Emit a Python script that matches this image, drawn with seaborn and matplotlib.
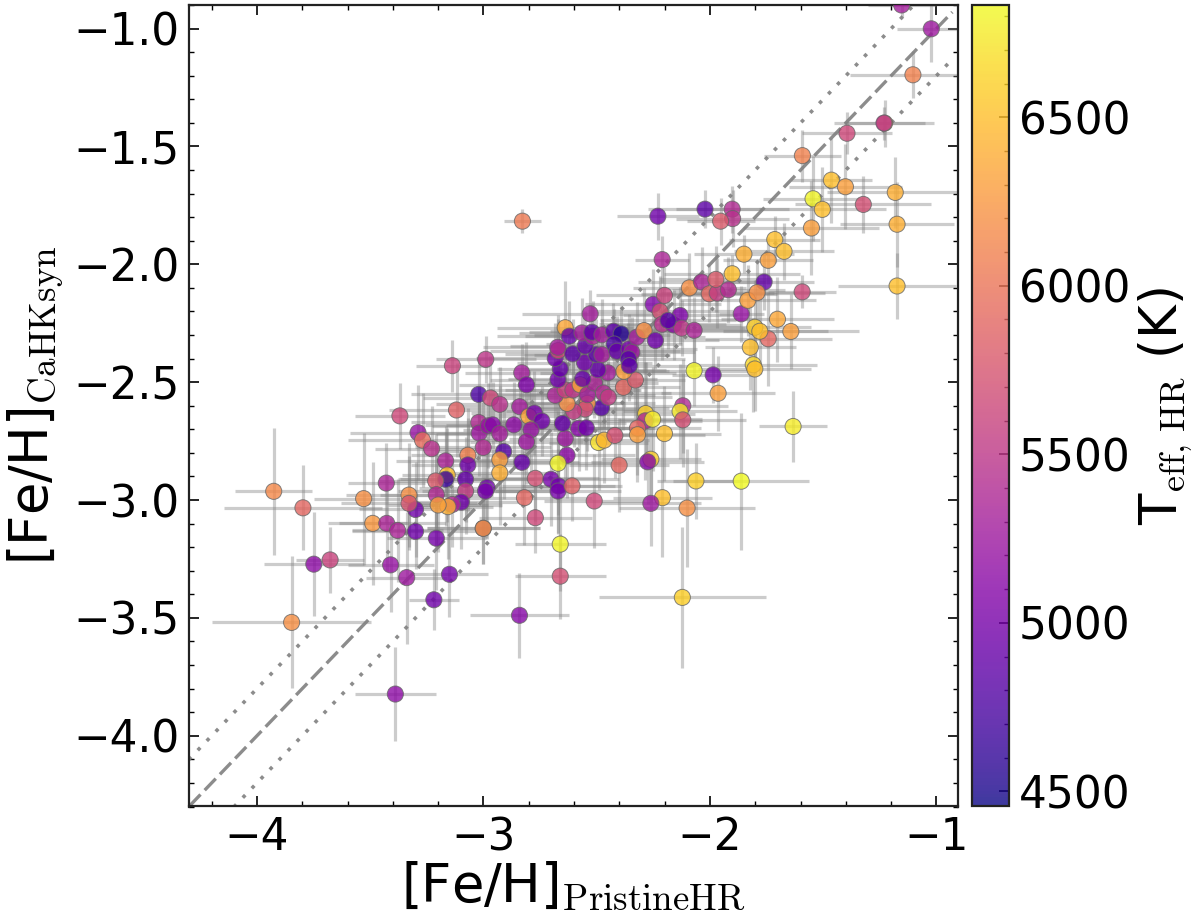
import numpy as np
import matplotlib
matplotlib.use("Agg")
import matplotlib.pyplot as plt
from matplotlib.cm import ScalarMappable
from matplotlib.colors import Normalize
from matplotlib.ticker import MultipleLocator
import seaborn as sns

feh_hr = [
 -3.926,-3.797,-3.749,-3.677,-3.847,-3.529,-3.489,-3.429,-3.427,-3.379,
 -3.41,-3.339,-3.30,-3.30,-3.329,-3.329,-3.208,-3.15,-3.219,-3.389,
 -3.369,-3.119,-3.289,-3.269,-3.229,-3.167,-3.069,-3.069,-3.16,-3.167,
 -3.211,-3.079,-3.208,-3.079,-2.984,-2.991,-3.098,-3.138,-3.157,-3.2,
 -3.001,-3.001,-3.021,-3.019,-3.001,-2.978,-2.99,-3.021,-2.969,-2.928,
 -2.831,-2.81,-2.84,-2.8,-2.775,-2.742,-2.866,-2.959,-2.928,-2.79,
 -2.81,-2.911,-2.928,-2.928,-2.83,-2.771,-2.702,-2.669,-2.671,-2.609,
 -2.819,-2.771,-2.511,-2.401,-2.631,-2.671,-2.639,-2.651,-2.58,-2.546,
 -2.492,-2.467,-2.42,-2.479,-2.541,-2.551,-2.602,-2.631,-2.683,-2.639,
 -2.605,-2.573,-2.541,-2.51,-2.47,-2.449,-2.382,-2.329,-2.38,-2.451,
 -2.495,-2.562,-2.671,-2.661,-2.554,-2.683,-2.67,-2.672,-2.606,-2.502,
 -2.477,-2.551,-2.639,-2.621,-2.565,-2.518,-2.521,-2.477,-2.529,-2.426,
 -2.392,-2.423,-2.411,-2.357,-2.345,-2.36,-2.356,-2.323,-2.291,-2.241,
 -2.251,-2.22,-2.201,-2.211,-2.161,-2.132,-2.125,-2.07,-2.185,-2.091,
 -2.037,-2.003,-1.968,-2.07,-1.986,-1.964,-2.12,-2.132,-2.12,-2.284,
 -2.286,-2.253,-2.32,-2.32,-2.201,-2.261,-2.275,-2.062,-2.21,-2.261,
 -2.101,-2.661,-1.633,-1.862,-2.122,-1.702,-1.643,-1.743,-1.802,-1.78,
 -1.822,-1.809,-1.802,-1.862,-1.833,-1.023,-1.154,-1.104,-1.395,-1.229,
 -1.232,-1.592,-1.464,-1.402,-1.182,-1.545,-1.504,-1.323,-1.174,-1.552,
 -2.23,-2.022,-1.902,-1.9,-1.953,-1.714,-1.673,-1.85,-1.743,-2.211,
 -1.902,-1.761,-1.974,-1.919,-1.792,-1.593,-1.174,-2.828,-3.137,-2.661,
 -2.841,
]
feh_cahk = [
 -2.963,-3.033,-3.272,-3.254,-3.519,-2.994,-3.099,-2.928,-3.099,-3.129,
 -3.275,-3.329,-3.133,-3.04,-2.979,-3.014,-3.162,-3.315,-3.423,-3.823,
 -2.643,-2.618,-2.714,-2.746,-2.782,-2.834,-2.81,-2.851,-2.894,-2.912,
 -2.919,-2.912,-2.977,-2.962,-2.947,-2.962,-3.009,-3.019,-3.028,-3.021,
 -3.12,-3.12,-2.671,-2.716,-2.777,-2.685,-2.403,-2.552,-2.567,-2.594,
 -2.46,-2.511,-2.604,-2.645,-2.631,-2.665,-2.681,-2.681,-2.718,-2.702,
 -2.753,-2.794,-2.829,-2.885,-2.84,-2.908,-2.912,-2.94,-2.962,-2.94,
 -2.99,-3.075,-3.004,-2.852,-2.81,-2.844,-2.739,-2.675,-2.696,-2.694,
 -2.756,-2.746,-2.726,-2.609,-2.59,-2.614,-2.624,-2.59,-2.556,-2.533,
 -2.533,-2.511,-2.553,-2.503,-2.546,-2.564,-2.522,-2.491,-2.454,-2.46,
 -2.447,-2.486,-2.489,-2.444,-2.417,-2.399,-2.366,-2.352,-2.38,-2.383,
 -2.383,-2.347,-2.269,-2.305,-2.291,-2.306,-2.288,-2.299,-2.21,-2.284,
 -2.295,-2.338,-2.369,-2.359,-2.373,-2.401,-2.43,-2.309,-2.281,-2.323,
 -2.17,-2.2,-2.132,-2.254,-2.257,-2.217,-2.271,-2.28,-2.238,-2.1,
 -2.075,-2.125,-2.122,-2.451,-2.469,-2.547,-2.6,-2.624,-2.66,-2.633,
 -2.664,-2.657,-2.695,-2.723,-2.718,-2.827,-2.838,-2.919,-2.99,-3.014,
 -3.034,-3.187,-2.688,-2.92,-3.413,-2.233,-2.285,-2.316,-2.267,-2.284,
 -2.352,-2.426,-2.444,-2.21,-2.153,-1.001,-0.9,-1.196,-1.444,-1.401,
 -1.401,-1.539,-1.643,-1.671,-1.695,-1.722,-1.767,-1.746,-1.83,-1.846,
 -1.796,-1.766,-1.766,-1.806,-1.817,-1.895,-1.945,-1.957,-1.983,-1.98,
 -2.04,-2.075,-2.064,-2.108,-2.12,-2.117,-2.092,-1.817,-2.43,-3.323,
 -3.489,
]
teff = [
 6150,5900,5150,5600,6200,6200,6250,5350,5350,5350,
 5200,5250,4950,4950,6200,5750,5000,5000,4950,5150,
 5650,5850,5200,5950,5450,5350,6100,4950,6500,4650,
 5800,4900,5400,5550,4950,5000,4950,5400,6400,6300,
 4900,6300,5400,5250,5400,5200,5500,4750,5650,5450,
 5300,5050,5300,6350,5000,4950,5150,5100,5300,5200,
 5250,4800,6300,6400,4900,5700,5000,4950,5000,5850,
 5900,5650,5650,5900,5150,6800,5250,4900,5100,4950,
 6700,6450,5700,4800,6200,5650,5550,6200,5350,5600,
 5500,6350,5300,5350,5400,5550,5900,5800,6300,5300,
 4900,4900,4950,4900,4950,4950,5700,5300,4850,4850,
 5300,4900,6350,4900,5300,5350,4850,5300,5300,4850,
 4550,4750,4900,5000,5250,4800,4850,5300,6200,4950,
 5050,5700,5600,5450,5100,5050,5500,5350,4800,6200,
 5350,5900,5550,6800,5000,6300,5400,6750,5700,6600,
 5350,6750,5900,6300,6500,6600,5100,6600,6500,5250,
 6200,6800,6750,6830,6600,6350,6300,5900,6600,6500,
 6500,6650,6500,5200,6300,5250,5300,6100,5650,6300,
 5450,6100,6500,6300,6400,6800,6500,5700,6400,6300,
 4950,4850,5400,5450,5800,6500,6500,6400,6300,5350,
 6500,4900,5800,5400,6200,5650,6500,6050,5600,5700,
 5100,
]
err_x = [
 .17,.35,.22,.15,.35,.22,.15,.17,.26,.20,
 .19,.18,.28,.25,.28,.30,.22,.17,.11,.18,
 .20,.30,.30,.33,.25,.22,.25,.25,.20,.20,
 .25,.30,.25,.30,.30,.28,.25,.22,.20,.22,
 .25,.25,.30,.28,.30,.25,.22,.30,.30,.28,
 .25,.30,.28,.25,.28,.25,.30,.30,.28,.30,
 .25,.30,.28,.25,.25,.28,.30,.25,.28,.22,
 .30,.25,.22,.22,.30,.28,.25,.28,.30,.30,
 .22,.20,.25,.30,.30,.28,.30,.25,.30,.33,
 .30,.28,.30,.28,.30,.28,.25,.22,.20,.30,
 .30,.33,.30,.28,.30,.35,.30,.33,.30,.32,
 .30,.33,.30,.32,.28,.30,.28,.30,.30,.28,
 .25,.30,.28,.30,.28,.25,.28,.30,.25,.28,
 .30,.32,.30,.28,.30,.25,.28,.25,.30,.25,
 .28,.30,.25,.25,.18,.25,.20,.25,.28,.22,
 .25,.22,.28,.30,.25,.22,.25,.17,.22,.22,
 .30,.20,.15,.30,.37,.25,.30,.28,.25,.30,
 .20,.28,.25,.10,.30,.15,.15,.28,.20,.18,
 .22,.17,.18,.25,.30,.22,.28,.30,.25,.30,
 .18,.25,.25,.25,.15,.20,.22,.22,.20,.12,
 .30,.22,.25,.25,.30,.15,.26,.08,.16,.20,
 .22,
]
err_y = [
 .27,.18,.22,.14,.28,.28,.26,.17,.20,.22,
 .20,.28,.16,.20,.22,.20,.22,.18,.13,.20,
 .14,.20,.20,.20,.18,.15,.20,.20,.20,.20,
 .20,.18,.22,.18,.22,.20,.20,.18,.22,.20,
 .15,.15,.15,.18,.20,.18,.10,.15,.18,.16,
 .12,.18,.15,.20,.18,.15,.18,.18,.20,.18,
 .18,.20,.20,.22,.18,.18,.20,.20,.18,.15,
 .20,.15,.20,.20,.18,.22,.20,.18,.18,.18,
 .20,.18,.18,.18,.20,.15,.15,.18,.15,.18,
 .15,.18,.15,.15,.15,.15,.18,.16,.15,.12,
 .15,.15,.15,.15,.12,.15,.15,.12,.15,.15,
 .15,.15,.20,.15,.15,.15,.12,.15,.10,.12,
 .12,.15,.15,.15,.15,.15,.15,.15,.18,.12,
 .15,.15,.12,.15,.15,.12,.12,.14,.12,.15,
 .15,.12,.15,.15,.12,.16,.20,.20,.20,.22,
 .25,.22,.20,.20,.20,.18,.18,.16,.25,.18,
 .25,.20,.15,.29,.30,.18,.16,.20,.20,.18,
 .18,.20,.18,.12,.15,.14,.05,.10,.09,.10,
 .07,.11,.18,.18,.15,.18,.18,.12,.18,.20,
 .10,.08,.10,.12,.10,.10,.12,.08,.10,.10,
 .08,.12,.14,.14,.14,.07,.14,.05,.11,.18,
 .18,
]

xlim = (-4.3, -0.905)
ylim = (-4.3, -0.9)
teff_lim = (4455, 6833)
one_to_one = [-4.5, -0.93]
scatter_offset = 0.2

sns.set_style("white")
plt.rcParams["font.family"] = ["DejaVu Sans"]
plt.rcParams["mathtext.fontset"] = "cm"
for key in ["text.color", "axes.labelcolor", "xtick.color", "ytick.color"]:
    plt.rcParams[key] = "black"

W, H = 1200, 921
fig = plt.figure(figsize=(W / 100, H / 100), dpi=100)
ax = fig.add_axes([189 / W, 1 - 806.5 / H, (958 - 189) / W, (806.5 - 5) / H])
cax = fig.add_axes([972 / W, 1 - 806.5 / H, (1009 - 972) / W, (806.5 - 5) / H])

norm = Normalize(*teff_lim)
ax.errorbar(feh_hr, feh_cahk, xerr=err_x, yerr=err_y, fmt="none",
            ecolor="gray", elinewidth=2.3, alpha=0.4, zorder=1)

line = np.array(one_to_one)
ax.plot(line, line, color="gray", lw=2.4, ls=(0, (4.8, 1.8)), alpha=0.9, zorder=2)
ax.plot(line, line + scatter_offset, color="gray", lw=2.6, ls=(0, (1, 2.6)), alpha=0.9, zorder=2)
ax.plot(line, line - scatter_offset, color="gray", lw=2.6, ls=(0, (1, 2.6)), alpha=0.9, zorder=2)

sns.scatterplot(x=feh_hr, y=feh_cahk, hue=teff, palette="plasma", hue_norm=norm,
                s=135, alpha=0.8, edgecolor="#666666", linewidth=0.7,
                legend=False, ax=ax, zorder=3)

ax.set_xlim(*xlim)
ax.set_ylim(*ylim)
ax.xaxis.set_major_locator(MultipleLocator(1))
ax.xaxis.set_minor_locator(MultipleLocator(0.2))
ax.yaxis.set_major_locator(MultipleLocator(0.5))
ax.yaxis.set_minor_locator(MultipleLocator(0.1))
ax.tick_params(which="major", direction="in", length=7, width=1.2, top=True, right=True,
               bottom=True, left=True, labelsize=31.5, pad=7)
ax.tick_params(which="minor", direction="in", length=3.5, width=1, top=True, right=True,
               bottom=True, left=True)
for s in ax.spines.values():
    s.set_linewidth(1.6)
    s.set_color("#222222")
ax.set_xlabel(r"[Fe/H]$_{\rm PristineHR}$", fontsize=38, labelpad=0)
ax.set_ylabel(r"[Fe/H]$_{\rm CaHKsyn}$", fontsize=38, labelpad=5)

sm = ScalarMappable(norm=norm, cmap="plasma")
cb = fig.colorbar(sm, cax=cax, alpha=0.8)
cb.set_ticks([4500, 5000, 5500, 6000, 6500])
cb.ax.yaxis.set_minor_locator(MultipleLocator(100))
cb.ax.tick_params(which="major", direction="in", length=7, width=1.2, right=True, labelsize=31.5, pad=7)
cb.ax.tick_params(which="minor", direction="in", length=3.5, width=1, right=True)
cb.outline.set_linewidth(1.6)
cb.outline.set_edgecolor("#222222")
cb.set_label(r"T$_{\rm eff,\,HR}$ (K)", fontsize=37, labelpad=5)

fig.savefig("out.png", dpi=100)
